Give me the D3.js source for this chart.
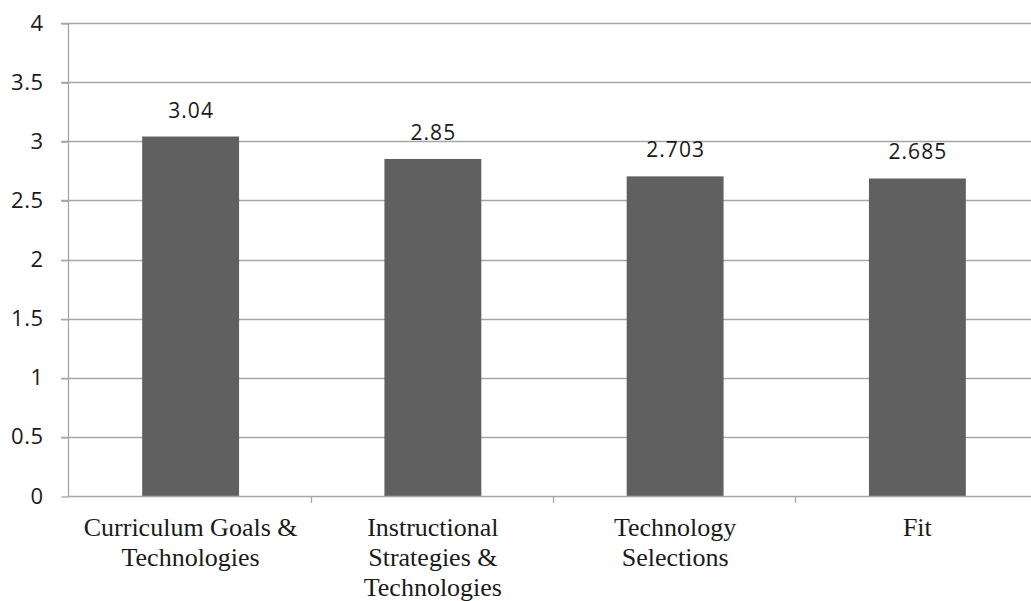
<!DOCTYPE html>
<html>
<head>
<meta charset="utf-8">
<script src="https://cdn.jsdelivr.net/npm/d3@7"></script>
<style>
  body { margin: 0; background: #fff; }
</style>
</head>
<body>
<div id="chart"></div>
<script>
// chart values
var categories = [
  ["Curriculum Goals &", "Technologies"],
  ["Instructional", "Strategies &", "Technologies"],
  ["Technology", "Selections"],
  ["Fit"]
]
var values = [3.04, 2.85, 2.703, 2.685]
var valueLabels = ["3.04", "2.85", "2.703", "2.685"]
var yTicks = [0, 0.5, 1, 1.5, 2, 2.5, 3, 3.5, 4]

var width = 1031, height = 601
var plotLeft = 68, plotRight = 1038.5, plotTop = 23, plotBottom = 496

var svg = d3.select("#chart").append("svg")
  .attr("width", width)
  .attr("height", height)

// one band per category, bars take 40% of it
var xb = d3.scaleBand()
  .domain(d3.range(categories.length))
  .range([plotLeft + 1.5, plotRight])

var barW = xb.bandwidth() * 0.4

var y = d3.scaleLinear().domain([0, 4]).range([plotBottom, plotTop])

// gridlines
svg.selectAll("line.grid")
  .data(yTicks.filter(function(d) { return d > 0 }))
  .enter()
  .append("line")
  .attr("x1", plotLeft - 7)
  .attr("x2", plotRight)
  .attr("y1", function(d) { return Math.round(y(d)) + 0.5 })
  .attr("y2", function(d) { return Math.round(y(d)) + 0.5 })
  .attr("stroke", "#a6a6a6")
  .attr("stroke-width", 1.3)

// y axis
var yAxis = svg.append("g")
  .attr("transform", "translate(" + (plotLeft + 0.5) + ",0)")
  .call(d3.axisLeft(y).tickValues(yTicks).tickSize(7).tickPadding(18)
    .tickFormat(function(d) { return String(d) }))
yAxis.select(".domain").attr("stroke", "#a6a6a6").attr("stroke-width", 1.3)
  .attr("d", "M0," + plotTop + "V" + plotBottom)
yAxis.selectAll(".tick line").attr("stroke", "#a6a6a6").attr("stroke-width", 1.3)
  .attr("transform", "translate(0,0.5)")
yAxis.selectAll(".tick text")
  .attr("font-family", "'Open Sans', 'Noto Sans', sans-serif")
  .attr("font-size", 22)
  .attr("letter-spacing", 0.5)
  .attr("fill", "#1a1a1a")

// bars
svg.selectAll("rect.bar")
  .data(values)
  .enter()
  .append("rect")
  .attr("x", function(d, i) { return xb(i) + (xb.bandwidth() - barW) / 2 })
  .attr("width", barW)
  .attr("y", function(d) { return y(d) })
  .attr("height", function(d) { return plotBottom - y(d) })
  .attr("fill", "#606060")

// x axis
var xAxis = svg.append("g")
  .attr("transform", "translate(0," + (plotBottom + 0.5) + ")")
  .call(d3.axisBottom(xb).tickSize(0).tickFormat(""))
xAxis.select(".domain").attr("stroke", "#a6a6a6").attr("stroke-width", 1.3)
  .attr("d", "M" + plotLeft + ",0H" + plotRight)

// category separators
svg.selectAll("line.sep")
  .data(d3.range(1, categories.length))
  .enter()
  .append("line")
  .attr("x1", function(i) { return Math.round(xb(i)) - 0.5 })
  .attr("x2", function(i) { return Math.round(xb(i)) - 0.5 })
  .attr("y1", plotBottom)
  .attr("y2", plotBottom + 7)
  .attr("stroke", "#a6a6a6")
  .attr("stroke-width", 1.3)

// data labels
svg.selectAll("text.val")
  .data(values)
  .enter()
  .append("text")
  .attr("x", function(d, i) { return xb(i) + xb.bandwidth() / 2 + 0.5 })
  .attr("y", function(d) { return y(d) - 19 })
  .attr("text-anchor", "middle")
  .attr("font-family", "'Open Sans', 'Noto Sans', sans-serif")
  .attr("font-size", 21)
  .attr("letter-spacing", 1)
  .attr("fill", "#1a1a1a")
  .text(function(d, i) { return valueLabels[i] })

// category labels
var cat = svg.selectAll("text.cat")
  .data(categories)
  .enter()
  .append("text")
  .attr("text-anchor", "middle")
  .attr("font-family", "'Liberation Serif', 'Times New Roman', serif")
  .attr("font-size", 26)
  .attr("fill", "#1a1a1a")

cat.selectAll("tspan")
  .data(function(d, i) { return d.map(function(s) { return { s: s, i: i } }) })
  .enter()
  .append("tspan")
  .attr("x", function(d) { return xb(d.i) + xb.bandwidth() / 2 })
  .attr("y", function(d, j) { return 536 + j * 30 })
  .text(function(d) { return d.s })
</script>
</body>
</html>
